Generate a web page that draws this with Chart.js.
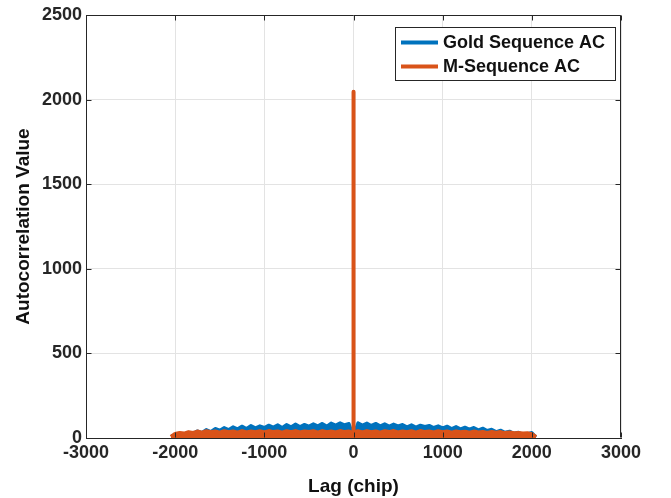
<!DOCTYPE html>
<html>
<head>
<meta charset="utf-8">
<script src="https://cdn.jsdelivr.net/npm/chart.js@4"></script>
<style>
  body { margin: 0; background: #fff; }
  #wrap { width: 671px; height: 498px; }
</style>
</head>
<body>
<div id="wrap"><canvas id="acChart" width="671" height="498"></canvas></div>
<script>
// lag samples (chips)
const lags = [-2047,-2000,-1950,-1900,-1850,-1800,-1750,-1700,-1650,-1600,-1550,-1500,-1450,-1400,-1350,-1300,-1250,-1200,-1150,-1100,-1050,-1000,-950,-900,-850,-800,-750,-700,-650,-600,-550,-500,-450,-400,-350,-300,-250,-200,-150,-100,-50,-20,-1,0,1,20,50,100,150,200,250,300,350,400,450,500,550,600,650,700,750,800,850,900,950,1000,1050,1100,1150,1200,1250,1300,1350,1400,1450,1500,1550,1600,1650,1700,1750,1800,1850,1900,1950,2000,2047];

const goldAC = [14,
  16,24,20,34,26,42,32,50,38,56,
  46,62,50,66,54,70,56,74,60,72,
  62,76,64,78,62,80,66,82,68,80,
  70,84,72,86,70,88,76,90,78,86,
  40,26,
  2047,
  24,46,
  90,76,88,74,86,72,84,70,82,72,
  80,66,78,64,76,68,74,62,72,60,
  70,56,68,54,64,52,62,48,58,44,
  52,38,46,34,40,28,34,22,26,32,
  6];

const mseqAC = [6,
  24,30,26,34,30,38,32,40,34,38,
  32,40,34,38,32,41,33,39,34,40,
  33,41,35,39,32,40,34,41,33,39,
  35,40,32,41,34,39,33,41,35,38,
  32,28,
  2047,
  28,34,
  40,33,41,34,39,32,40,35,41,33,
  39,34,40,32,41,35,38,33,40,34,
  39,32,38,34,37,31,38,33,36,30,
  36,31,35,29,33,28,30,26,28,22,
  6];

const xTicks = [-3000,-2000,-1000,0,1000,2000,3000];
const yTicks = [0,500,1000,1500,2000,2500];
const seriesNames = ["Gold Sequence AC", "M-Sequence AC"];

const BLUE = "#0072BD";
const ORANGE = "#D95319";
const AXIS = "#262626";
const FONT = "'Liberation Sans', Arial, Helvetica, sans-serif";

function toPoints(vals) {
  return lags.map((x, i) => ({ x: x, y: vals[i] }));
}

// top/right box lines and inward tick marks, matlab style
const axesBox = {
  id: "axesBox",
  afterDatasetsDraw(chart) {
    const { ctx, chartArea: a, scales } = chart;
    const L = Math.round(a.left) + 0.5, R = Math.round(a.right) - 0.5;
    const T = Math.round(a.top) + 0.5, B = Math.round(a.bottom) - 0.5;
    ctx.save();
    ctx.strokeStyle = AXIS;
    ctx.lineWidth = 1;
    ctx.beginPath();
    ctx.moveTo(L, T); ctx.lineTo(R, T); ctx.lineTo(R, B);
    xTicks.forEach(v => {
      const px = Math.round(scales.x.getPixelForValue(v)) + 0.5;
      ctx.moveTo(px, B); ctx.lineTo(px, B - 5);
      ctx.moveTo(px, T); ctx.lineTo(px, T + 5);
    });
    yTicks.forEach(v => {
      const py = Math.round(scales.y.getPixelForValue(v)) + 0.5;
      ctx.moveTo(L, py); ctx.lineTo(L + 5, py);
      ctx.moveTo(R, py); ctx.lineTo(R - 5, py);
    });
    ctx.stroke();
    ctx.restore();
  }
};

// boxed legend inside the plot, top right
const boxLegend = {
  id: "boxLegend",
  afterDraw(chart) {
    const { ctx, chartArea: a } = chart;
    const sets = chart.data.datasets;
    ctx.save();
    ctx.font = "bold 18px " + FONT;
    const textW = Math.max(...sets.map(d => ctx.measureText(d.label).width));
    const pad = 6, lineLen = 37, gap = 5, rowH = 24;
    const w = Math.round(pad + lineLen + gap + textW + 10);
    const h = 53;
    const right = Math.round(a.right) - 6;
    const top = Math.round(a.top) + 12;
    const left = right - w;
    ctx.fillStyle = "#fff";
    ctx.fillRect(left, top, w, h);
    ctx.strokeStyle = AXIS;
    ctx.lineWidth = 1;
    ctx.strokeRect(left + 0.5, top + 0.5, w, h);
    sets.forEach((d, i) => {
      const y = top + 15.5 + i * rowH;
      ctx.strokeStyle = d.borderColor;
      ctx.lineWidth = 4;
      ctx.beginPath();
      ctx.moveTo(left + pad, y);
      ctx.lineTo(left + pad + lineLen, y);
      ctx.stroke();
      ctx.fillStyle = "#111";
      ctx.textAlign = "left";
      ctx.textBaseline = "middle";
      ctx.fillText(d.label, left + pad + lineLen + gap, y + 1);
    });
    ctx.restore();
  }
};

const tickFont = { family: FONT, size: 18, weight: "bold" };
const titleFont = { family: FONT, size: 19, weight: "bold" };

new Chart(document.getElementById("acChart"), {
  type: "line",
  data: {
    datasets: [{
      label: seriesNames[0],
      data: toPoints(goldAC),
      borderColor: BLUE,
      backgroundColor: BLUE,
      borderWidth: 3,
      fill: "origin",
      order: 1
    }, {
      label: seriesNames[1],
      data: toPoints(mseqAC),
      borderColor: ORANGE,
      backgroundColor: ORANGE,
      borderWidth: 4,
      fill: "origin",
      order: 0
    }]
  },
  options: {
    responsive: false,
    animation: false,
    layout: { padding: { top: 15, right: 50, left: 0, bottom: 0 } },
    elements: {
      point: { radius: 0 },
      line: { tension: 0, borderJoinStyle: "round" }
    },
    plugins: {
      legend: { display: false },
      tooltip: { enabled: false }
    },
    scales: {
      x: {
        type: "linear",
        min: -3000,
        max: 3000,
        afterBuildTicks: s => { s.ticks = xTicks.map(v => ({ value: v })); },
        afterFit: s => { s.height = 60; },
        ticks: { font: tickFont, color: AXIS, padding: 4, maxRotation: 0, callback: v => String(v) },
        grid: { color: "#e3e3e3", drawTicks: false },
        border: { color: AXIS, width: 1 },
        title: { display: true, text: "Lag (chip)", font: titleFont, color: "#111", padding: { top: 0, bottom: 0 } }
      },
      y: {
        min: 0,
        max: 2500,
        afterBuildTicks: s => { s.ticks = yTicks.map(v => ({ value: v })); },
        afterFit: s => { s.width = 86; },
        ticks: { font: tickFont, color: AXIS, padding: 4, callback: v => String(v) },
        grid: { color: "#e3e3e3", drawTicks: false },
        border: { color: AXIS, width: 1 },
        title: { display: true, text: "Autocorrelation Value", font: titleFont, color: "#111", padding: { top: 12, bottom: 0 } }
      }
    }
  },
  plugins: [axesBox, boxLegend]
});
</script>
</body>
</html>
